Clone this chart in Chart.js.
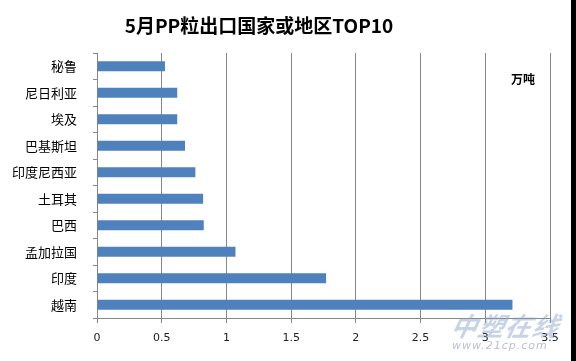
<!DOCTYPE html>
<html>
<head>
<meta charset="utf-8">
<script src="https://cdn.jsdelivr.net/npm/chart.js@4"></script>
<style>
  html, body { margin: 0; padding: 0; background: #fff; }
  #wrap { position: relative; width: 576px; height: 361px; overflow: hidden; background: #fff; }
  canvas { position: absolute; left: 0; top: 0; }
  #title { position: absolute; left: 0; width: 518px; top: 11px; text-align: center;
           font-family: "Noto Sans CJK SC", sans-serif; font-weight: bold; font-size: 19px; color: #000; line-height: 28px; }
  #unit { position: absolute; left: 511px; top: 70px; font-family: "Noto Sans CJK SC", sans-serif;
          font-weight: bold; font-size: 12px; color: #000; }
  #wm1 { position: absolute; left: 452px; top: 306px; font-family: "Noto Sans CJK SC", sans-serif; font-style: italic;
         font-weight: bold; font-size: 26px; color: rgba(130,160,205,0.45); transform: skewX(-12deg); letter-spacing: 1px; }
  #wm2 { position: absolute; left: 452px; top: 339px; font-family: "DejaVu Sans", sans-serif; font-style: italic;
         font-size: 11px; color: rgba(140,150,175,0.6); letter-spacing: 1px; }
  #strip { position: absolute; right: 0; top: 0; width: 5px; height: 361px; background: #000; }
</style>
</head>
<body>
<div id="wrap">
  <canvas id="c" width="576" height="361"></canvas>
  <div id="title">5月PP粒出口国家或地区TOP10</div>
  <div id="unit">万吨</div>
  <div id="wm1">中塑在线</div>
  <div id="wm2">www.21cp.com</div>
  <div id="strip"></div>
</div>
<script>
const categories = ["秘鲁", "尼日利亚", "埃及", "巴基斯坦", "印度尼西亚", "土耳其", "巴西", "孟加拉国", "印度", "越南"];
const exportValues = [0.525, 0.62, 0.62, 0.68, 0.76, 0.82, 0.825, 1.07, 1.77, 3.21];
const xTickLabels = ["0", "0.5", "1", "1.5", "2", "2.5", "3", "3.5"];

new Chart(document.getElementById("c"), {
  type: "bar",
  data: {
    labels: categories,
    datasets: [{
      data: exportValues,
      backgroundColor: "#4F81BD",
      borderWidth: 0,
      categoryPercentage: 1.0,
      barPercentage: 0.38
    }]
  },
  options: {
    indexAxis: "y",
    responsive: false,
    animation: false,
    devicePixelRatio: 1,
    layout: { padding: { left: 0, top: 53, right: 26, bottom: 0 } },
    plugins: { legend: { display: false }, title: { display: false }, tooltip: { enabled: false } },
    scales: {
      x: {
        min: 0, max: 3.5,
        ticks: {
          stepSize: 0.5,
          padding: 9,
          color: "#222",
          font: { family: "DejaVu Sans", size: 11 },
          callback: (v, i) => xTickLabels[i]
        },
        grid: { color: "#878787", lineWidth: 1, tickLength: 5, drawOnChartArea: true },
        border: { color: "#878787", width: 1 },
        afterFit: (s) => { s.height = 43; }
      },
      y: {
        ticks: {
          padding: 16,
          color: "#000",
          font: { family: "Noto Sans CJK SC", size: 13 }
        },
        grid: { color: "#878787", drawOnChartArea: false, tickLength: 4, offset: true },
        border: { color: "#878787", width: 1 },
        afterFit: (s) => { s.width = 97; }
      }
    }
  }
});
</script>
</body>
</html>
